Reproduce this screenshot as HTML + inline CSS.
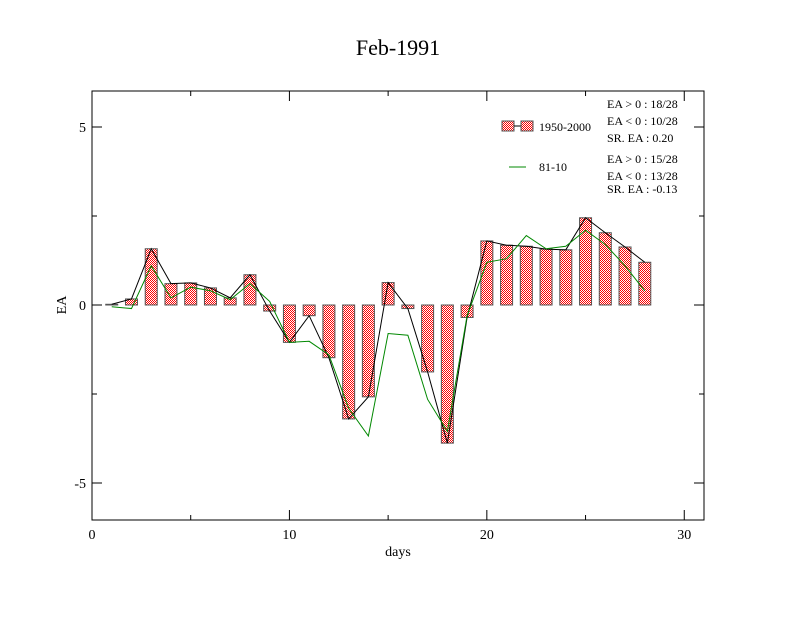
<!DOCTYPE html>
<html><head><meta charset="utf-8"><style>
body{margin:0;background:#fff;}
svg text{font-family:"Liberation Serif",serif;fill:#000;}
</style></head><body>
<svg id="chart" width="792" height="612" xmlns="http://www.w3.org/2000/svg">
<defs>
<pattern id="chk" width="2" height="2" patternUnits="userSpaceOnUse">
<rect width="2" height="2" fill="#fff"/><rect width="1" height="1" fill="#f00"/><rect x="1" y="1" width="1" height="1" fill="#f00"/>
</pattern>
</defs>
<rect width="792" height="612" fill="#fff"/>
<text x="398" y="55" font-size="22" text-anchor="middle">Feb-1991</text>
<g id="plot"></g>
<rect x="92" y="91" width="612" height="429" fill="none" stroke="#000" stroke-width="1"/>
<text x="398" y="556" font-size="14" text-anchor="middle">days</text>
<text x="66" y="305" font-size="14" text-anchor="middle" transform="rotate(-90 66 305)">EA</text>
<g>
<rect x="502" y="121" width="12" height="10" fill="url(#chk)" stroke="#555"/>
<line x1="514" y1="126" x2="521" y2="126" stroke="#000"/>
<rect x="521" y="121" width="12" height="10" fill="url(#chk)" stroke="#555"/>
<text x="539" y="131" font-size="12">1950-2000</text>
<line x1="509" y1="167" x2="526" y2="167" stroke="#080"/>
<text x="539" y="171" font-size="12">81-10</text>
<text font-size="12"><tspan x="607" y="108">EA &gt; 0 : 18/28</tspan><tspan x="607" y="125">EA &lt; 0 : 10/28</tspan><tspan x="607" y="142">SR. EA :  0.20</tspan></text>
<text font-size="12"><tspan x="607" y="163">EA &gt; 0 : 15/28</tspan><tspan x="607" y="180">EA &lt; 0 : 13/28</tspan><tspan x="607" y="193">SR. EA : -0.13</tspan></text>
</g>
</svg>
<script>
const days=[1,2,3,4,5,6,7,8,9,10,11,12,13,14,15,16,17,18,19,20,21,22,23,24,25,26,27,28];
const ea5000=[0.02,0.17,1.58,0.6,0.62,0.48,0.2,0.85,-0.17,-1.05,-0.3,-1.48,-3.2,-2.58,0.63,-0.1,-1.88,-3.88,-0.35,1.8,1.68,1.65,1.57,1.55,2.45,2.03,1.63,1.2];
const ea8110=[-0.05,-0.1,1.1,0.2,0.5,0.4,0.15,0.6,0.1,-1.05,-1.02,-1.4,-2.9,-3.68,-0.8,-0.85,-2.65,-3.55,-0.3,1.2,1.3,1.95,1.58,1.65,2.1,1.7,1.1,0.4];
const xTicks=[0,10,20,30];
const yTicks=[-5,0,5];
const X=v=>92+v*(612/31);
const Y=v=>305-v*35.6;
const NS="http://www.w3.org/2000/svg";
const g=document.getElementById('plot');
function mk(t,a){const e=document.createElementNS(NS,t);for(const k in a)e.setAttribute(k,a[k]);g.appendChild(e);return e;}
days.forEach((d,i)=>{const v=ea5000[i];const y0=Y(Math.max(v,0)),y1=Y(Math.min(v,0));
const r=mk('rect',{x:X(d)-6,y:y0,width:12,height:Math.max(y1-y0,0.5),fill:'url(#chk)',stroke:'#555','stroke-width':1});

});
const l1=mk('polyline',{points:days.map((d,i)=>X(d)+','+Y(ea5000[i])).join(' '),fill:'none',stroke:'#000','stroke-width':1});


const l2=mk('polyline',{points:days.map((d,i)=>X(d)+','+Y(ea8110[i])).join(' '),fill:'none',stroke:'#080','stroke-width':1});


xTicks.forEach(t=>{const x=X(t);
mk('line',{x1:x,y1:520,x2:x,y2:510,stroke:'#000'});mk('line',{x1:x,y1:91,x2:x,y2:101,stroke:'#000'});
const m=X(t+5);if(t<30){mk('line',{x1:m,y1:520,x2:m,y2:515,stroke:'#000'});mk('line',{x1:m,y1:91,x2:m,y2:96,stroke:'#000'});}
const tx=mk('text',{x:x,y:539,'font-size':14,'text-anchor':'middle'});tx.textContent=t;

});
yTicks.forEach(t=>{const y=Y(t);
mk('line',{x1:92,y1:y,x2:102,y2:y,stroke:'#000'});mk('line',{x1:704,y1:y,x2:694,y2:y,stroke:'#000'});
const ty=mk('text',{x:86,y:y+5,'font-size':14,'text-anchor':'end'});ty.textContent=t;

});
[-2.5,2.5].forEach(t=>{const y=Y(t);mk('line',{x1:92,y1:y,x2:97,y2:y,stroke:'#000'});mk('line',{x1:704,y1:y,x2:699,y2:y,stroke:'#000'});});
</script>
</body></html>
